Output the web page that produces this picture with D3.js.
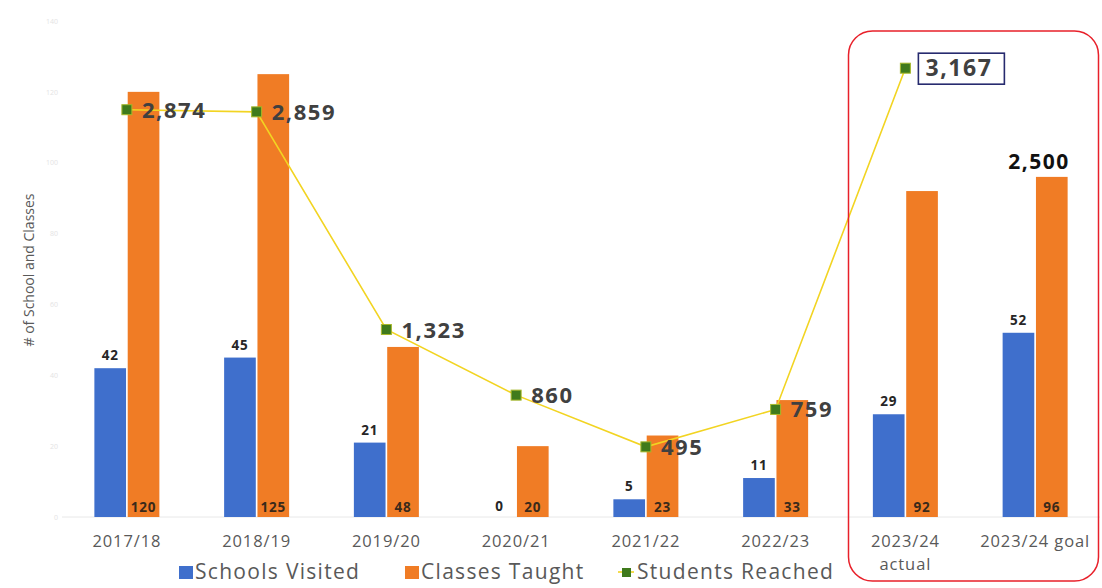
<!DOCTYPE html>
<html>
<head>
<meta charset="utf-8">
<script src="https://cdn.jsdelivr.net/npm/d3@7"></script>
<style>
  body { margin: 0; background: #fff; }
  svg { font-family: "Open Sans", sans-serif; }
</style>
</head>
<body>
<svg class="svg-chart" width="1102" height="588"></svg>
<script>
// data
const years = ["2017/18", "2018/19", "2019/20", "2020/21", "2021/22", "2022/23", "2023/24 actual", "2023/24 goal"]
const schoolsVisited = [42, 45, 21, 0, 5, 11, 29, 52]
const classesTaught = [120, 125, 48, 20, 23, 33, 92, 96]
const studentsReached = [2874, 2859, 1323, 860, 495, 759, 3167]
const studentsGoal = 2500
const yTicks = [0, 20, 40, 60, 80, 100, 120, 140]

var svg = d3.select('.svg-chart')
var margin = { top: 21, left: 62, right: 2, bottom: 71 }
var width = 1102 - margin.left - margin.right
var baseY = 588 - margin.bottom

var x_scale = d3.scaleBand()
    .domain(years)
    .range([margin.left, margin.left + width])

var inner = d3.scaleBand()
    .domain(["s", "c"])
    .range([0, 65])
    .paddingInner(0.05)

var y_scale = d3.scaleLinear()
    .domain([0, 140])
    .range([baseY, margin.top])

// hidden secondary axis for students
var y2_scale = d3.scaleLinear()
    .domain([0, 3500])
    .range([baseY, margin.top])

// faint left axis labels
var y_axis = d3.axisLeft(y_scale).tickValues(yTicks).tickSize(0).tickPadding(4)
var ya = svg.append('g')
    .attr('transform', `translate(${margin.left},0)`)
    .call(y_axis)
ya.select('.domain').remove()
ya.selectAll('text').attr('fill', '#e4e4e4').style('font-size', '7px').style('font-family', 'Open Sans')

svg.append('text')
    .attr('transform', 'rotate(-90)')
    .attr('x', -270)
    .attr('y', 34)
    .style('text-anchor', 'middle')
    .style('font-size', '14px')
    .attr('fill', '#595959')
    .text('# of School and Classes')

// baseline
svg.append('line')
    .attr('x1', margin.left).attr('x2', margin.left + width)
    .attr('y1', baseY).attr('y2', baseY)
    .attr('stroke', '#e8e8e8')

var groups = svg.selectAll('.grp')
    .data(years)
    .enter()
    .append('g')
    .attr('class', 'grp')
    .attr('transform', d => `translate(${x_scale(d) + x_scale.bandwidth() / 2 - 32.5},0)`)

groups.append('rect')
    .attr('x', inner('s'))
    .attr('width', inner.bandwidth())
    .attr('y', (d, i) => y_scale(schoolsVisited[i]))
    .attr('height', (d, i) => baseY - y_scale(schoolsVisited[i]))
    .attr('fill', '#3f6fcc')

groups.append('rect')
    .attr('x', inner('c'))
    .attr('width', inner.bandwidth())
    .attr('y', (d, i) => y_scale(classesTaught[i]))
    .attr('height', (d, i) => baseY - y_scale(classesTaught[i]))
    .attr('fill', '#f07c25')

groups.append('text')
    .attr('x', inner('s') + inner.bandwidth() / 2)
    .attr('y', (d, i) => schoolsVisited[i] === 0 ? baseY - 6 : y_scale(schoolsVisited[i]) - 8)
    .style('text-anchor', 'middle')
    .style('font-size', '13.5px')
    .style('font-weight', 'bold')
    .style('letter-spacing', '0.8px')
    .attr('fill', '#262626')
    .text((d, i) => schoolsVisited[i])

groups.append('text')
    .attr('x', inner('c') + inner.bandwidth() / 2)
    .attr('y', baseY - 5)
    .style('text-anchor', 'middle')
    .style('font-size', '13.5px')
    .style('font-weight', 'bold')
    .style('letter-spacing', '0.8px')
    .attr('fill', '#3a2a1a')
    .text((d, i) => classesTaught[i])

// x labels
groups.each(function (d) {
    var parts = d === "2023/24 actual" ? ["2023/24", "actual"] : [d]
    var t = d3.select(this).append('text')
        .attr('x', 32.5)
        .attr('y', baseY + 30)
        .style('text-anchor', 'middle')
        .style('font-size', '16.5px')
        .style('letter-spacing', '0.9px')
        .attr('fill', '#595959')
    parts.forEach((p, k) => {
        t.append('tspan').attr('x', 32.5).attr('dy', k === 0 ? 0 : 23).text(p)
    })
})

// students line
var cx = d => x_scale(d) + x_scale.bandwidth() / 2
var line = d3.line()
    .x((d, i) => cx(years[i]))
    .y(d => y2_scale(d))

svg.append('path')
    .attr('d', line(studentsReached))
    .attr('stroke', '#f2d422')
    .attr('stroke-width', 1.6)
    .attr('fill', 'none')

svg.selectAll('.pt')
    .data(studentsReached)
    .enter()
    .append('rect')
    .attr('class', 'pt')
    .attr('x', (d, i) => cx(years[i]) - 5)
    .attr('y', d => y2_scale(d) - 5)
    .attr('width', 10)
    .attr('height', 10)
    .attr('fill', '#3f7a1c')
    .attr('stroke', '#a6b82a')
    .attr('stroke-width', 1)

svg.selectAll('.ptlbl')
    .data(studentsReached)
    .enter()
    .append('text')
    .attr('class', 'ptlbl')
    .attr('x', (d, i) => cx(years[i]) + (i === 6 ? 20 : 15))
    .attr('y', d => y2_scale(d) + 8)
    .style('font-size', (d, i) => i === 6 ? '23px' : '22px')
    .style('font-weight', 'bold')
    .style('letter-spacing', '1.6px')
    .attr('fill', '#404040')
    .text(d => d3.format(',')(d))

// box around latest value
var last = studentsReached.length - 1
svg.append('rect')
    .attr('x', cx(years[last]) + 13)
    .attr('y', y2_scale(studentsReached[last]) - 15)
    .attr('width', 86)
    .attr('height', 31)
    .attr('fill', 'none')
    .attr('stroke', '#262a6e')
    .attr('stroke-width', 1.6)

// goal label
svg.append('text')
    .attr('x', cx(years[7]) + 4)
    .attr('y', y_scale(classesTaught[7]) - 8)
    .style('text-anchor', 'middle')
    .style('font-size', '21px')
    .style('font-weight', 'bold')
    .style('letter-spacing', '1.5px')
    .attr('fill', '#111')
    .text(d3.format(',')(studentsGoal))

// red highlight
svg.append('rect')
    .attr('x', x_scale(years[6]) + 8)
    .attr('y', 31)
    .attr('width', 250)
    .attr('height', 550)
    .attr('rx', 24)
    .attr('fill', 'none')
    .attr('stroke', '#e8202a')
    .attr('stroke-width', 1.5)

// legend
var legend = [
    { name: "Schools Visited", color: '#3f6fcc', x: 179 },
    { name: "Classes Taught", color: '#f07c25', x: 405 },
    { name: "Students Reached", color: '#3f7a1c', x: 621 }
]
var lg = svg.selectAll('.lg').data(legend).enter().append('g')
    .attr('transform', d => `translate(${d.x},572)`)
lg.filter((d, i) => i === 2).append('line')
    .attr('x1', -3).attr('x2', 13).attr('y1', 0).attr('y2', 0)
    .attr('stroke', '#f2d422').attr('stroke-width', 1.6)
lg.append('rect')
    .attr('x', (d, i) => i === 2 ? 1 : 0)
    .attr('y', (d, i) => i === 2 ? -4 : -6)
    .attr('width', (d, i) => i === 2 ? 9 : 14)
    .attr('height', (d, i) => i === 2 ? 9 : 13)
    .attr('fill', d => d.color)
lg.append('text')
    .attr('x', 16)
    .attr('y', 7)
    .style('font-size', '21px')
    .style('letter-spacing', '1.3px')
    .attr('fill', '#595959')
    .text(d => d.name)
</script>
</body>
</html>
